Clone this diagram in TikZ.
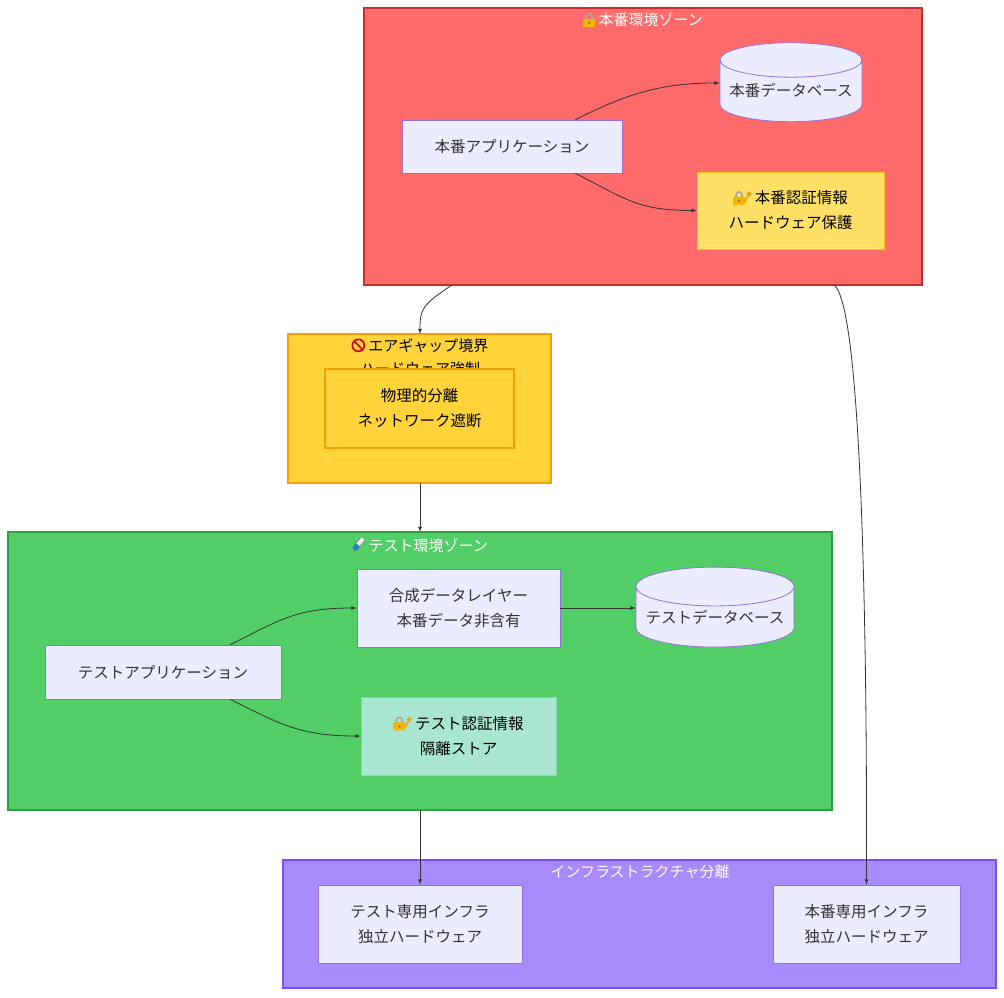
\documentclass[tikz,border=0pt]{standalone}
\usepackage{fontspec}
\setmainfont{Noto Sans CJK JP}
\usetikzlibrary{shapes.geometric}
\definecolor{nodefill}{HTML}{ECECFF}
\definecolor{nodeline}{HTML}{9370DB}
\definecolor{prodfill}{HTML}{FF6B6B}
\definecolor{prodline}{HTML}{C92A2A}
\definecolor{gapfill}{HTML}{FFD43B}
\definecolor{gapline}{HTML}{F59F00}
\definecolor{testfill}{HTML}{51CF66}
\definecolor{testline}{HTML}{2F9E44}
\definecolor{infrafill}{HTML}{A78BFA}
\definecolor{infraline}{HTML}{7C4DFF}
\definecolor{credfill}{HTML}{FFE066}
\definecolor{credline}{HTML}{F5C518}
\definecolor{tcredfill}{HTML}{A8E6CF}
\definecolor{tcredline}{HTML}{8FD3B6}
\definecolor{edge}{HTML}{333333}
\definecolor{lockgold}{HTML}{F4B400}
\tikzset{>=latex}
\tikzset{every text node part/.style={align=center}}
\tikzset{
  zone/.style={draw=#1line, fill=#1fill, line width=2.5pt},
  ztitle/.style={text=white, font=\fontsize{15}{17}\selectfont},
  box/.style={draw=nodeline, fill=nodefill, line width=0.8pt, inner sep=0pt,
    font=\fontsize{15.5}{25}\selectfont, text=black!80},
  db/.style={cylinder, shape border rotate=90, aspect=0.28, draw=nodeline, fill=nodefill,
    line width=0.8pt, inner sep=0pt, font=\fontsize{15.5}{25}\selectfont, text=black!80},
  link/.style={->, draw=edge, line width=0.8pt},
}
\newcommand{\zonebox}[5]{\draw[zone=#5] (#1,#2) rectangle (#3,#4);}
% small icons in place of the emoji
\newcommand{\lockicon}{\tikz[baseline=0pt, x=1pt, y=1pt]{%
  \draw[gray!70, line width=1.6pt] (3,6) -- (3,9) arc (180:0:3) -- (9,6);
  \fill[lockgold, rounded corners=1pt] (0,-1) rectangle (12,7);
  \fill[black!60] (6,3) circle (1.1);}}
\newcommand{\keylockicon}{\tikz[baseline=0pt, x=1pt, y=1pt]{%
  \draw[gray!70, line width=1.6pt] (3,6) -- (3,9) arc (180:0:3) -- (9,6);
  \fill[lockgold, rounded corners=1pt] (0,-1) rectangle (12,7);
  \fill[black!60] (6,3) circle (1.1);
  \draw[lockgold!70!brown, line width=1.4pt] (12,2) -- (16,10) circle (1.8);}}
\newcommand{\noicon}{\tikz[baseline=-1pt, x=1pt, y=1pt]{%
  \draw[red!80!black, line width=1.6pt] (6,5) circle (6);
  \draw[red!80!black, line width=1.6pt] (1.8,9.2) -- (10.2,0.8);}}
\newcommand{\tubeicon}{\tikz[baseline=-1pt, x=1pt, y=1pt]{%
  \begin{scope}[rotate around={-40:(6,6)}]
  \fill[white!90!gray] (3.5,14) rectangle (8.5,6);
  \fill[cyan!70!blue] (3.5,6) -- (3.5,2) arc (180:360:2.5) -- (8.5,6) -- cycle;
  \draw[gray, line width=0.6pt] (3.5,14) -- (3.5,2) arc (180:360:2.5) -- (8.5,14);
  \end{scope}}}
\begin{document}
\begin{tikzpicture}[x=1pt, y=-1pt]
	\useasboundingbox (0,0) rectangle (1004,997);

	% Zones
	\zonebox{364}{8}{922}{285}{prod}
	\node[ztitle] (prodtitle) at (643,20) {\lockicon\ 本番環境ゾーン};
	\zonebox{288}{334}{551}{483}{gap}
	\node[font=\fontsize{15}{23}\selectfont, anchor=north] (gaptitle) at (420,335) {\noicon\ エアギャップ境界\\ハードウェア強制};
	\zonebox{8}{532}{832}{810}{test}
	\node[ztitle] (testtitle) at (420,545) {\tubeicon\ テスト環境ゾーン};
	\zonebox{283}{860}{996}{988}{infra}
	\node[ztitle] (infratitle) at (640,872) {インフラストラクチャ分離};

	% Anchors on zone borders
	\coordinate (prodbotL) at (452,285);
	\coordinate (prodbotR) at (834,285);
	\coordinate (gaptop) at (420,334);
	\coordinate (gapbot) at (420,483);
	\coordinate (testtop) at (420,532);
	\coordinate (testbot) at (420,810);

	% Production nodes
	\node[box, minimum width=220pt, minimum height=53pt] (prodapp) at (512,146.5) {本番アプリケーション};
	\node[db, minimum width=142pt, minimum height=79pt] (proddb) at (791,91) {本番データベース};
	\node[box, draw=credline, fill=credfill, text=black, minimum width=187pt, minimum height=77pt] (prodcred) at (790.5,210.5) {\keylockicon\ 本番認証情報\\ハードウェア保護};

	% Air gap
	\node[box, draw=gapline, fill=gapfill, text=black, line width=2.5pt, minimum width=189pt, minimum height=79pt] (isolation) at (419.5,408.5) {物理的分離\\ネットワーク遮断};

	% Test nodes
	\node[box, minimum width=236pt, minimum height=54pt] (testapp) at (163,672) {テストアプリケーション};
	\node[box, minimum width=203pt, minimum height=78pt] (synth) at (458.5,608) {合成データレイヤー\\本番データ非含有};
	\node[db, minimum width=158pt, minimum height=80pt] (testdb) at (715,617) {テストデータベース};
	\node[box, draw=tcredline, fill=tcredfill, text=black, minimum width=195pt, minimum height=78pt] (testcred) at (458.5,736) {\keylockicon\ テスト認証情報\\隔離ストア};

	% Infra nodes
	\node[box, minimum width=204pt, minimum height=78pt] (testinfra) at (420,924) {テスト専用インフラ\\独立ハードウェア};
	\node[box, minimum width=187pt, minimum height=78pt] (prodinfra) at (866.5,924) {本番専用インフラ\\独立ハードウェア};

	% Connectors
	\draw[link] (prodapp.north east) ++(-47,0) .. controls +(50,-25) and +(-60,0) .. ([yshift=8pt]proddb.west);
	\draw[link] (prodapp.south east) ++(-47,0) .. controls +(50,25) and +(-60,0) .. (prodcred.west);
	\draw[link] (prodbotL) .. controls +(-30,20) and +(0,-25) .. (gaptop);
	\draw[link] (gapbot) -- (testtop);
	\draw[link] (testapp.north east) ++(-51,0) .. controls +(50,-25) and +(-60,0) .. (synth.west);
	\draw[link] (testapp.south east) ++(-51,0) .. controls +(50,25) and +(-60,0) .. (testcred.west);
	\draw[link] (synth.east) -- (synth.east -| testdb.west);
	\draw[link] (testbot) -- (testinfra.north);
	\draw[link] (prodbotR) .. controls +(35,25) and +(0,-60) .. (prodinfra.north);
\end{tikzpicture}
\end{document}
